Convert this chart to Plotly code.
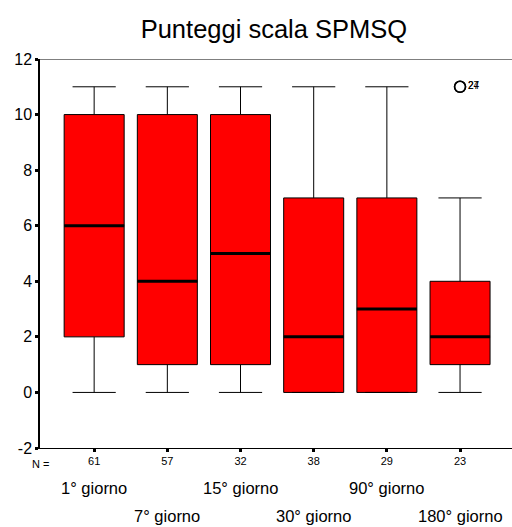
import plotly.graph_objects as go

# SPMSQ score distributions per follow-up day
days = ["1° giorno", "7° giorno", "15° giorno", "30° giorno", "90° giorno", "180° giorno"]
n_cases = [61, 57, 32, 38, 29, 23]
lower_whisker = [0, 0, 0, 0, 0, 0]
q1 = [2, 1, 1, 0, 0, 1]
median = [6, 4, 5, 2, 3, 2]
q3 = [10, 10, 10, 7, 7, 4]
upper_whisker = [11, 11, 11, 11, 11, 7]

# outliers: (group index, value, case ids)
outlier_group = [5, 5]
outlier_value = [11, 11]
outlier_case = ["27", "24"]

y_ticks = [-2, 0, 2, 4, 6, 8, 10, 12]

pos = list(range(len(days)))
box_w = 0.82

fig = go.Figure()
fig.add_trace(go.Box(
    x=pos, q1=q1, median=median, q3=q3,
    lowerfence=lower_whisker, upperfence=upper_whisker,
    width=box_w, whiskerwidth=0.72,
    fillcolor="#ff0000", line=dict(color="black", width=1),
    boxpoints=False, hoverinfo="skip", showlegend=False,
))

# thick median bars
mx, my = [], []
for p, m in zip(pos, median):
    mx += [p - box_w / 2, p + box_w / 2, None]
    my += [m, m, None]
fig.add_trace(go.Scatter(x=mx, y=my, mode="lines",
                         line=dict(color="black", width=3),
                         showlegend=False, hoverinfo="skip"))

# outliers with case labels (labels overprint each other)
fig.add_trace(go.Scatter(
    x=outlier_group, y=outlier_value, mode="markers+text",
    marker=dict(symbol="circle-open", size=11, color="black", line=dict(width=1.5)),
    text=outlier_case, textposition="middle right",
    textfont=dict(family="Liberation Sans, Arial", size=10, color="black"),
    showlegend=False, hoverinfo="skip",
))

annotations = [dict(text="N =", x=0, xref="paper", xanchor="center",
                    y=-0.04, yref="paper", yanchor="middle", showarrow=False,
                    font=dict(size=11))]
for i, d in enumerate(days):
    row_y = -0.103 if i % 2 == 0 else -0.174
    annotations.append(dict(text=d, x=i, xref="x", xanchor="center",
                            y=row_y, yref="paper", yanchor="middle",
                            showarrow=False, font=dict(size=16.5)))

fig.update_layout(
    width=512, height=527,
    margin=dict(l=40, r=0, t=59, b=79),
    paper_bgcolor="white", plot_bgcolor="white",
    font=dict(family="Liberation Sans, Arial", color="black"),
    title=dict(text="Punteggi scala SPMSQ", x=0.535, xanchor="center",
               y=0.945, yanchor="middle", font=dict(size=25.5)),
    xaxis=dict(range=[-0.74, 5.71], tickvals=pos, ticktext=[str(n) for n in n_cases],
               showgrid=False, zeroline=False, showline=True, linecolor="black",
               linewidth=1, ticks="outside", ticklen=3, tickwidth=3,
               tickcolor="black", tickfont=dict(size=11)),
    yaxis=dict(range=[-2, 12], tickvals=y_ticks, ticktext=[str(v) for v in y_ticks],
               showgrid=False, zeroline=False,
               showline=True, linecolor="black", linewidth=1.5,
               ticks="outside", ticklen=3, tickwidth=3, tickcolor="black",
               tickfont=dict(size=16)),
    annotations=annotations,
    shapes=[dict(type="line", xref="paper", yref="y", x0=0, x1=1, y0=12, y1=12,
                 line=dict(color="black", width=1))],
)

fig.write_html("out.html")
